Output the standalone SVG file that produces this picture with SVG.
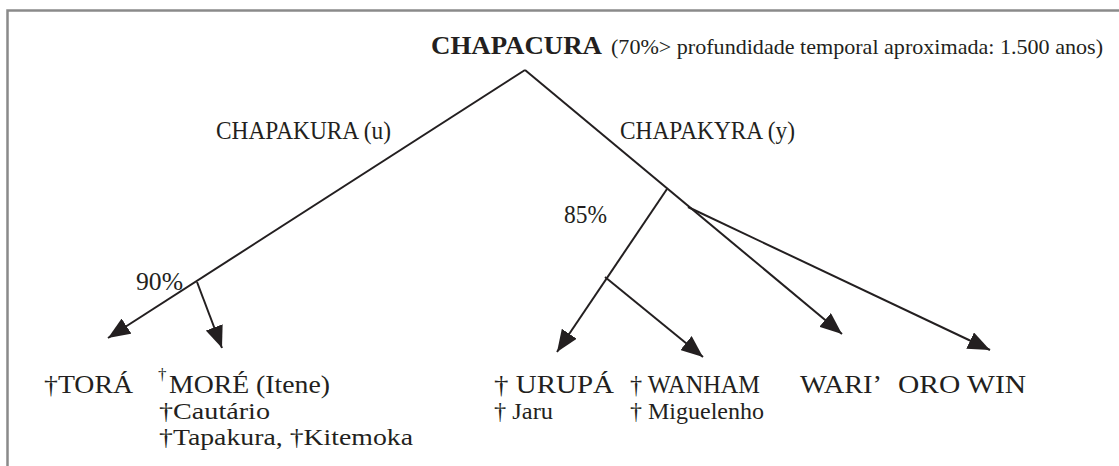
<svg xmlns="http://www.w3.org/2000/svg" width="1119" height="466" viewBox="0 0 1119 466" font-family="'Liberation Serif', 'DejaVu Serif', serif">
<style>
text{font-family:"Liberation Serif","DejaVu Serif",serif;fill:#231f20;}
.t{font-size:25.5px;}
.s{font-size:23px;}
.lbl{font-size:26px;}
.c{stroke:#231f20;stroke-width:2;fill:none;}
.frame{stroke:#8a8a8a;stroke-width:2.5;fill:none;}
</style>
<defs>
<marker id="ah" viewBox="0 0 11 9" refX="11" refY="4.5" markerWidth="11" markerHeight="9" orient="auto">
<path d="M0,0 L11,4.5 L0,9 z" fill="#231f20"/>
</marker>
</defs>
<rect width="1119" height="466" fill="#fff"/>
<path class="frame" d="M7.5,466 V10.5 H1119"/>
<g id="connectors">
<path class="c" d="M525,70 L842,334" marker-end="url(#ah)"/>
<path class="c" d="M525,70 L108,338" marker-end="url(#ah)"/>
<path class="c" d="M197,282 L222,348" marker-end="url(#ah)"/>
<path class="c" d="M667,189 L557,352" marker-end="url(#ah)"/>
<path class="c" d="M605,277 L703,357" marker-end="url(#ah)"/>
<path class="c" d="M688,207 L990,350" marker-end="url(#ah)"/>
</g>
<g id="root">
<text x="431" y="54" font-size="26" font-weight="bold" textLength="171" lengthAdjust="spacingAndGlyphs">CHAPACURA</text>
<text x="611" y="54" font-size="22" textLength="492" lengthAdjust="spacingAndGlyphs">(70%&gt; profundidade temporal aproximada: 1.500 anos)</text>
</g>
<g id="chapakura"><text class="lbl" x="216" y="139" textLength="175" lengthAdjust="spacingAndGlyphs">CHAPAKURA (u)</text></g>
<g id="chapakyra"><text class="lbl" x="620" y="139" textLength="175" lengthAdjust="spacingAndGlyphs">CHAPAKYRA (y)</text></g>
<g id="p90"><text class="lbl" x="136" y="290" textLength="47" lengthAdjust="spacingAndGlyphs">90%</text></g>
<g id="p85"><text class="lbl" x="564" y="223" textLength="43" lengthAdjust="spacingAndGlyphs">85%</text></g>
<g id="tora"><text class="t" x="44" y="393" textLength="89" lengthAdjust="spacingAndGlyphs">†TORÁ</text></g>
<g id="more">
<text x="158" y="380" font-size="17">†</text>
<text class="t" x="169" y="393" textLength="161" lengthAdjust="spacingAndGlyphs">MORÉ (Itene)</text>
<text class="s" x="159" y="419" textLength="111" lengthAdjust="spacingAndGlyphs">†Cautário</text>
<text class="s" x="159" y="445" textLength="254" lengthAdjust="spacingAndGlyphs">†Tapakura, †Kitemoka</text>
</g>
<g id="urupa">
<text class="t" x="494" y="393" textLength="120" lengthAdjust="spacingAndGlyphs">† URUPÁ</text>
<text class="s" x="494" y="419" textLength="59" lengthAdjust="spacingAndGlyphs">† Jaru</text>
</g>
<g id="wanham">
<text class="t" x="630" y="393" textLength="130" lengthAdjust="spacingAndGlyphs">† WANHAM</text>
<text class="s" x="630" y="419" textLength="134" lengthAdjust="spacingAndGlyphs">† Miguelenho</text>
</g>
<g id="wari"><text class="t" x="800" y="393" textLength="82" lengthAdjust="spacingAndGlyphs">WARI’</text></g>
<g id="orowin"><text class="t" x="898" y="393" textLength="128" lengthAdjust="spacingAndGlyphs">ORO WIN</text></g>
</svg>
